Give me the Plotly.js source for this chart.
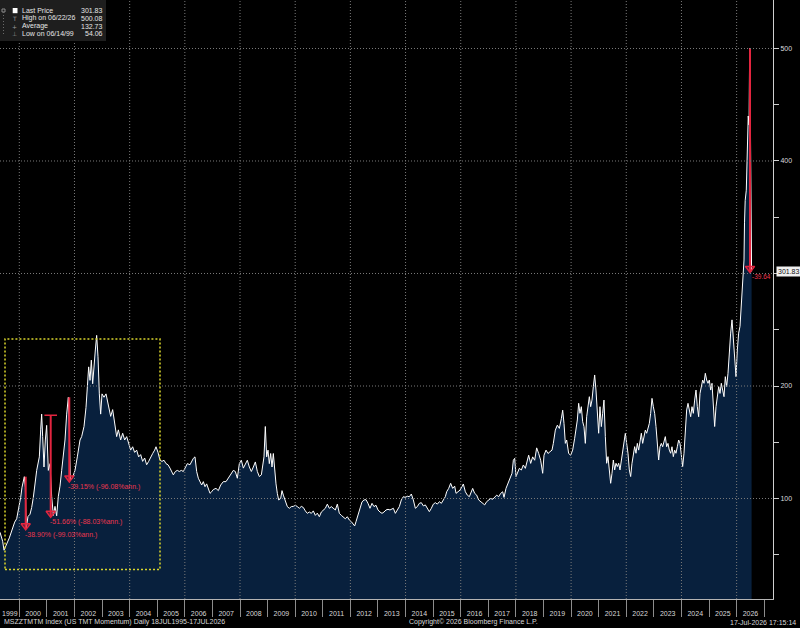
<!DOCTYPE html>
<html><head><meta charset="utf-8">
<script src="https://cdn.plot.ly/plotly-3.0.1.min.js"></script>
<style>html,body{margin:0;padding:0;background:#000;}#chart{width:800px;height:628px;}</style>
</head><body><div id="chart"></div>
<script>
// ---- data (decimal years, index level) ----
const years = [
1999.300,1999.397,1999.446,1999.542,1999.639,1999.735,1999.832,1999.905,1999.977,2000.050,
2000.098,2000.146,2000.182,2000.219,2000.250,2000.315,2000.388,2000.448,2000.509,2000.630,
2000.726,2000.775,2000.811,2000.847,2000.895,2000.944,2000.992,2001.052,2001.113,2001.173,
2001.234,2001.294,2001.354,2001.415,2001.475,2001.536,2001.596,2001.656,2001.717,2001.777,
2001.814,2001.850,2001.934,2002.019,2002.103,2002.200,2002.260,2002.345,2002.418,2002.466,
2002.514,2002.563,2002.611,2002.659,2002.708,2002.756,2002.804,2002.853,2002.901,2002.949,
2002.998,2003.070,2003.143,2003.191,2003.263,2003.312,2003.384,2003.457,2003.529,2003.590,
2003.674,2003.747,2003.819,2003.892,2003.964,2004.037,2004.109,2004.181,2004.254,2004.326,
2004.399,2004.471,2004.544,2004.616,2004.689,2004.761,2004.834,2004.906,2004.955,2005.027,
2005.100,2005.172,2005.245,2005.317,2005.390,2005.462,2005.535,2005.583,2005.655,2005.728,
2005.800,2005.873,2005.945,2006.018,2006.090,2006.187,2006.308,2006.368,2006.429,2006.489,
2006.549,2006.610,2006.670,2006.731,2006.791,2006.852,2006.912,2006.972,2007.033,2007.129,
2007.214,2007.299,2007.395,2007.492,2007.576,2007.661,2007.758,2007.830,2007.903,2007.975,
2008.048,2008.120,2008.193,2008.265,2008.338,2008.410,2008.483,2008.555,2008.628,2008.700,
2008.773,2008.821,2008.869,2008.917,2008.966,2009.014,2009.062,2009.111,2009.159,2009.207,
2009.256,2009.304,2009.352,2009.401,2009.473,2009.522,2009.570,2009.642,2009.715,2009.787,
2009.860,2009.932,2010.005,2010.077,2010.150,2010.222,2010.295,2010.367,2010.440,2010.512,
2010.585,2010.657,2010.730,2010.802,2010.875,2010.947,2011.020,2011.092,2011.165,2011.237,
2011.310,2011.382,2011.455,2011.527,2011.600,2011.672,2011.745,2011.817,2011.889,2011.962,
2012.034,2012.107,2012.155,2012.204,2012.276,2012.349,2012.421,2012.494,2012.566,2012.639,
2012.711,2012.784,2012.856,2012.929,2013.001,2013.074,2013.146,2013.219,2013.291,2013.364,
2013.436,2013.557,2013.630,2013.702,2013.775,2013.847,2013.920,2013.992,2014.065,2014.137,
2014.210,2014.282,2014.355,2014.427,2014.500,2014.572,2014.645,2014.717,2014.790,2014.862,
2014.935,2015.007,2015.080,2015.152,2015.225,2015.297,2015.370,2015.442,2015.490,2015.563,
2015.635,2015.708,2015.780,2015.829,2015.901,2015.974,2016.046,2016.094,2016.167,2016.239,
2016.312,2016.384,2016.433,2016.505,2016.578,2016.650,2016.723,2016.795,2016.868,2016.940,
2017.013,2017.085,2017.158,2017.230,2017.303,2017.375,2017.448,2017.520,2017.568,2017.641,
2017.713,2017.786,2017.858,2017.907,2017.955,2018.003,2018.052,2018.124,2018.197,2018.269,
2018.342,2018.414,2018.462,2018.535,2018.607,2018.680,2018.752,2018.825,2018.897,2018.970,
2019.018,2019.091,2019.163,2019.236,2019.308,2019.356,2019.429,2019.501,2019.574,2019.646,
2019.695,2019.743,2019.791,2019.840,2019.912,2019.985,2020.057,2020.129,2020.177,2020.226,
2020.274,2020.322,2020.371,2020.419,2020.467,2020.516,2020.564,2020.612,2020.661,2020.709,
2020.757,2020.806,2020.854,2020.902,2020.951,2020.999,2021.047,2021.096,2021.144,2021.192,
2021.241,2021.289,2021.337,2021.386,2021.434,2021.482,2021.531,2021.579,2021.627,2021.676,
2021.724,2021.772,2021.821,2021.869,2021.917,2021.966,2022.014,2022.062,2022.111,2022.159,
2022.207,2022.256,2022.304,2022.352,2022.401,2022.449,2022.497,2022.546,2022.594,2022.642,
2022.691,2022.739,2022.787,2022.836,2022.884,2022.932,2022.980,2023.029,2023.077,2023.125,
2023.174,2023.222,2023.270,2023.319,2023.367,2023.415,2023.464,2023.512,2023.560,2023.609,
2023.657,2023.705,2023.754,2023.802,2023.850,2023.899,2023.947,2023.995,2024.044,2024.092,
2024.140,2024.189,2024.237,2024.285,2024.334,2024.382,2024.430,2024.479,2024.527,2024.575,
2024.624,2024.672,2024.720,2024.769,2024.817,2024.865,2024.914,2024.962,2025.010,2025.059,
2025.107,2025.155,2025.204,2025.252,2025.300,2025.349,2025.397,2025.445,2025.493,2025.542,
2025.590,2025.638,2025.687,2025.735,2025.783,2025.832,2025.880,2025.928,2025.977,2026.025,
2026.073,2026.122,2026.170,2026.194,2026.243,2026.267,2026.285,2026.310,2026.350,2026.390,
2026.420,2026.450,2026.472,2026.500,2026.520,2026.542
];
const prices = [
70,62,54.06,59,65,72,79,82,90,101,
110,118,119.4,110,73.5,84,86,92,101,125,
137,161,175,155,128,152,165,125,131,102,
85,93,84.6,102,111,125,137,152,175,190,
161,116,119,125,137,152,155,164,181,196,
217,205,223,202,214,232,245,226,193,175,
193,190,193,187,179,173,179,167,155,161,
152,158,152,155,149,143,146,141,143,137,
139,133,136,130,133,137,140,143,146,141,
134,133,134,131,130,127,124,121,124,125,
124,125,124,128,131,130,135.7,137,124,118,
115,112,115,110.5,113,109,104.6,106,108,109,
107,112,115,115,118,121,125,124,118,131,
134,127,131,134,128,124,128,132.5,124,119.5,
121,130,137,164,137,143,131,140,128,140,
125,113,104.6,98.7,100,107,103,97,92.8,91.3,
92.8,93,94,92.8,91.3,93,92,89,86.8,88,
86.8,89,85,87,83.8,88,89.8,91.3,95,91.3,
92.8,91.3,89.8,95,86.8,85,83.8,82,83.8,80.9,
79.4,77.4,75.6,79.4,85,89.8,97,98.7,99,95.7,
91.3,95.7,92.8,94,89.8,88,86.8,88,89.8,90.4,
89.8,91.3,86.8,89.8,92.8,98.7,101.6,101,102,101.6,
104,98.7,91.3,92.8,95.7,96.3,93.4,94.3,91.3,88.3,
91.3,95,96.3,95,97.2,95.7,98.7,101.6,106,109,
113.5,109,111,104.6,106,107.5,110.5,112.9,106,103,
101.6,106,109,104.6,103,98.7,97.2,95.7,94.3,97.2,
98.7,100,99.3,101,103,101.6,104.6,106,101,109,
113.5,118,122.4,134,135.7,119.5,122.4,126.8,125.3,129.8,
126.8,134,138.5,131.2,137,134,145,140,134,122.4,
138.5,143,140,141.6,143,149,160.8,165.2,162.3,171,
178.5,166.7,149,152,140,138.5,143,153.5,161,169.8,
184.6,175.7,181.6,168.3,163.9,149,172.7,184.6,190.5,181.6,
187.5,199.4,209.8,196.4,169.8,158,181.6,163.9,175.7,187.5,
155,131.3,137.2,125.4,113.5,122.4,134.2,125.4,131.3,128.4,
131.3,125.4,134.2,140.2,149,158,149,140.2,125.4,119.5,
131.3,140.2,146.1,140.2,149,143,152,158,149,155,
160.8,158,162.4,166.8,175.7,189,181.6,175.7,164,152,
134.2,146,149,146,152,155,146,149,143,140.2,
146,137.2,143,140.2,146,152,149,137.2,128.4,140.2,
164,178.7,184.6,178.7,172.7,181.6,175.7,187.5,196.4,181.6,
172.7,193.4,199.4,205.3,202.4,211.3,205.3,202.4,205.3,196.4,
202.4,187.5,164,181.6,190.5,199.4,193.4,202.4,196.4,190.5,
208.3,199.4,211.3,232,247,258.8,241,229,208.3,232,
247,253,270.5,285.3,297,312,345,365,374,420,
440,432,500.08,430,360,301.83
];

// axis labels / ticks
const yearLabels = ['1999','2000','2001','2002','2003','2004','2005','2006','2007','2008','2009','2010','2011','2012','2013','2014','2015','2016','2017','2018','2019','2020','2021','2022','2023','2024','2025','2026'];
const yearBounds = [2000,2001,2002,2003,2004,2005,2006,2007,2008,2009,2010,2011,2012,2013,2014,2015,2016,2017,2018,2019,2020,2021,2022,2023,2024,2025,2026,2027];
const gridYears = [2000,2002,2004,2006,2008,2010,2012,2014,2016,2018,2020,2022,2024,2026];
const yTickVals = [100,200,300,400,500];
const yTickText = ['100','200','','400','500'];   // "300" sits under the last-price tag
const yMinorVals = [50,150,250,350,450];

// drawdown annotations
const ddX = [2000.232, 2001.138, 2001.812, 2026.484];
const ddPeak = [119.4, 174, 190, 500.08];
const ddTrough = [73, 84.1, 115.6, 301.83];
const ddLabel = ['-38.90% (-99.03%ann.)', '-51.66% (-88.03%ann.)', '-39.15% (-96.08%ann.)', '-39.64'];
const ddCap = [false, true, false, false];

// highlight box
const boxX = [1999.482, 2005.10];
const boxY = [37, 241.8];

// legend
const legendNames = ['Last Price', 'High on 06/22/26', 'Average', 'Low on 06/14/99'];
const legendValues = ['301.83', '500.08', '132.73', '54.06'];
const legendIcons = ['', 'T', '+', '\u22A5'];
const lastPrice = 301.83;

const FONT = 'Liberation Sans, Arial, sans-serif';
const RED = '#e3253f';

const traces = [{
  x: years, y: prices, type: 'scatter', mode: 'lines',
  line: {color: '#ffffff', width: 1},
  fill: 'tozeroy', fillcolor: '#08203d', hoverinfo: 'skip'
}];

ddX.forEach((x, i) => {
  traces.push({x: [x, x], y: [ddPeak[i], ddTrough[i]], type: 'scatter', mode: 'lines',
    line: {color: RED, width: 2}, hoverinfo: 'skip'});
  traces.push({x: [x], y: [ddTrough[i] + 2.7], type: 'scatter', mode: 'markers',
    marker: {symbol: 'triangle-down', size: 8, color: 'rgba(227,37,63,0.35)', line: {color: RED, width: 1.5}}, hoverinfo: 'skip'});
  if (ddCap[i]) {
    traces.push({x: [x], y: [ddPeak[i]], type: 'scatter', mode: 'markers',
      marker: {symbol: 'line-ew', size: 9, line: {color: RED, width: 1.5}}, hoverinfo: 'skip'});
  }
});

const GRID = {color: '#7a7a7a', width: 1, dash: '1px,2px'};
const shapes = [];
gridYears.forEach(v => shapes.push({type: 'line', xref: 'x', yref: 'paper', x0: v, x1: v, y0: 0, y1: 1,
  line: GRID, layer: 'above'}));
yTickVals.forEach(v => shapes.push({type: 'line', xref: 'paper', yref: 'y', x0: 0, x1: 1, y0: v, y1: v,
  line: GRID, layer: 'above'}));
shapes.push({type: 'rect', xref: 'x', yref: 'y', x0: boxX[0], x1: boxX[1], y0: boxY[0], y1: boxY[1],
  line: {color: '#d9d52c', width: 1.5, dash: '2px,2px'}, layer: 'above'});

// legend box (paper coords from pixel sizes)
const PW = 773, PH = 599;
const px = v => v / PW, py = v => 1 - v / PH;
shapes.push({type: 'rect', xref: 'paper', yref: 'paper', x0: 0, x1: px(106), y0: py(41), y1: 1,
  fillcolor: '#1e1e1e', line: {width: 0}, layer: 'above'});
shapes.push({type: 'rect', xref: 'paper', yref: 'paper', x0: px(12.7), x1: px(17.5), y0: py(13.2), y1: py(8),
  fillcolor: '#ffffff', line: {width: 0}, layer: 'above'});
shapes.push({type: 'rect', xref: 'paper', yref: 'paper', x0: px(2), x1: px(5), y0: py(12), y1: py(9),
  fillcolor: 'rgba(0,0,0,0)', line: {color: '#8a8a8a', width: 1}, layer: 'above'});
shapes.push({type: 'line', xref: 'paper', yref: 'paper', x0: px(3.5), x1: px(3.5), y0: py(34), y1: py(12),
  line: {color: '#6a6a6a', width: 1, dash: '1px,2px'}, layer: 'above'});

const rowY = [10.7, 18.3, 26, 33.7];
const annotations = [];
legendNames.forEach((n, i) => {
  annotations.push({xref: 'paper', yref: 'paper', x: px(20.5), y: py(rowY[i]), xanchor: 'left', yanchor: 'middle',
    text: n, showarrow: false, borderpad: 0, font: {family: FONT, size: 7, color: '#e6e6e6'}});
  annotations.push({xref: 'paper', yref: 'paper', x: px(104), y: py(rowY[i]), xanchor: 'right', yanchor: 'middle',
    text: legendValues[i], showarrow: false, borderpad: 0, font: {family: FONT, size: 7, color: '#e6e6e6'}});
  if (legendIcons[i]) annotations.push({xref: 'paper', yref: 'paper', x: px(15), y: py(rowY[i]), xanchor: 'center', yanchor: 'middle',
    text: legendIcons[i], showarrow: false, borderpad: 0, font: {family: 'DejaVu Sans, sans-serif', size: 6, color: '#9a9a9a'}});
});

ddX.forEach((x, i) => {
  const last = i === ddX.length - 1;
  annotations.push({xref: 'x', yref: 'y', x: x, y: ddTrough[i], xanchor: 'left',
    yanchor: last ? 'middle' : 'top', xshift: last ? 1 : -2, yshift: last ? -5 : -1, borderpad: 0,
    text: ddLabel[i], showarrow: false, font: {family: FONT, size: last ? 6.5 : 7, color: '#e8374f'}});
});

annotations.push({xref: 'paper', yref: 'y', x: 1, y: lastPrice, xanchor: 'left', yanchor: 'middle', xshift: 3,
  text: '301.83', showarrow: false, bgcolor: '#efefef', borderpad: 1,
  font: {family: FONT, size: 7, color: '#111111'}});

// first year label sits at the very left edge: draw it left-anchored so it is not clipped
annotations.push({xref: 'paper', yref: 'paper', x: px(0.5), y: -15 / PH, xanchor: 'left', yanchor: 'middle',
  text: yearLabels[0], showarrow: false, borderpad: 0, font: {family: FONT, size: 7, color: '#d8d8d8'}});

const by = -23 / PH;
annotations.push({xref: 'paper', yref: 'paper', x: px(1.5), y: by, xanchor: 'left', yanchor: 'middle',
  text: 'MSZZTMTM Index (US TMT Momentum) Daily 18JUL1995-17JUL2026', showarrow: false,
  font: {family: FONT, size: 7, color: '#d8d8d8'}});
annotations.push({xref: 'paper', yref: 'paper', x: px(473), y: by, xanchor: 'center', yanchor: 'middle',
  text: 'Copyright\u00A9 2026 Bloomberg Finance L.P.', showarrow: false,
  font: {family: FONT, size: 7, color: '#d8d8d8'}});
annotations.push({xref: 'paper', yref: 'paper', x: px(798), y: by, xanchor: 'right', yanchor: 'middle',
  text: '17-Jul-2026 17:15:14', showarrow: false,
  font: {family: FONT, size: 7, color: '#d8d8d8'}});

const layout = {
  width: 800, height: 628,
  margin: {l: 0, r: 27, t: 0, b: 29, pad: 0},
  paper_bgcolor: '#000000', plot_bgcolor: '#000000',
  showlegend: false,
  xaxis: {
    type: 'linear', range: [1999.3005, 2027.318],
    tickmode: 'array', tickvals: yearLabels.slice(1).map(y => +y + 0.5), ticktext: yearLabels.slice(1),
    ticks: '', showgrid: false, zeroline: false,
    showline: true, linecolor: '#b4b4b4', linewidth: 1,
    tickfont: {family: FONT, size: 7, color: '#d8d8d8'},
    ticklabelstandoff: 8,
    minor: {tickmode: 'array', tickvals: yearBounds, ticks: 'outside', ticklen: 17, tickcolor: '#8c8c8c', tickwidth: 1, showgrid: false}
  },
  yaxis: {
    side: 'right', range: [10.67, 543.1],
    tickmode: 'array', tickvals: yTickVals, ticktext: yTickText,
    ticks: 'outside', ticklen: 5, tickcolor: '#cfcfcf', tickwidth: 1,
    showline: true, linecolor: '#cfcfcf', linewidth: 1,
    showgrid: false, zeroline: false,
    tickfont: {family: FONT, size: 7, color: '#dcdcdc'},
    minor: {tickmode: 'array', tickvals: yMinorVals, ticks: 'outside', ticklen: 5, tickcolor: '#cfcfcf', tickwidth: 1, showgrid: false}
  },
  shapes: shapes,
  annotations: annotations
};

Plotly.newPlot('chart', traces, layout, {staticPlot: true, displayModeBar: false});
</script>
</body></html>
